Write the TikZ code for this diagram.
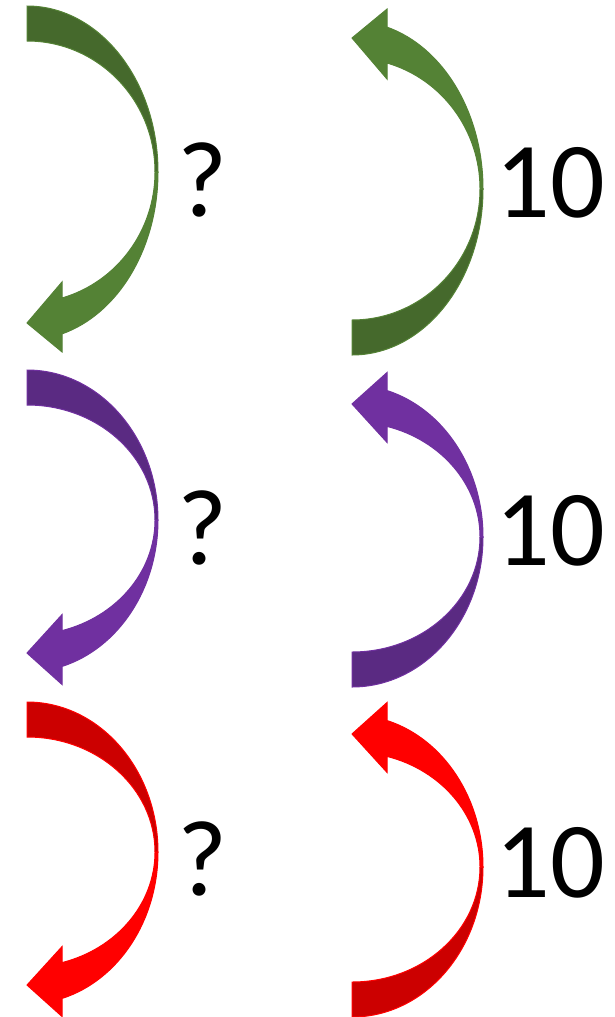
\documentclass[tikz,border=0pt]{standalone}
\usepackage{fontspec}
\setmainfont{Carlito}
\usetikzlibrary{calc}

\definecolor{greenfront}{HTML}{548235}
\definecolor{greenback}{HTML}{45692C}
\definecolor{purplefront}{HTML}{7030A0}
\definecolor{purpleback}{HTML}{5A2A82}
\definecolor{redfront}{HTML}{FF0000}
\definecolor{redback}{HTML}{CC0000}

\begin{document}
\begin{tikzpicture}[x=1pt, y=1pt,
    num/.style={font=\fontsize{108}{120}\selectfont, inner sep=0pt, anchor=base},
    pics/turn/.style n args={3}{code={
        \pgfmathsetmacro\ro{#3}
        \pgfmathsetmacro\rf{#3+2}
        \pgfmathsetmacro\ri{#3-35}
        \pgfmathsetmacro\yo{-\rf*sin(acos(35/131))}
        \pgfmathsetmacro\yi{-\ri*sin(acos(35/128))}
        \pgfmathsetmacro\yt{(\yo+\yi)/2-4.5-(#3-150)*0.16}
        % back of the band
        \filldraw[fill=#2, draw=#1, line width=1pt]
            (0,\ro) arc[start angle=90, end angle=0, x radius=131, y radius=\ro]
            -- (128,0) arc[start angle=0, end angle=90, x radius=128, y radius=\ri] -- cycle;
        % front of the band with the head
        \filldraw[fill=#1, draw=#1, line width=1pt]
            (131,0) arc[start angle=0, end angle=-74.50, x radius=131, y radius=\rf]
            -- (35,\yo-18) -- (0,\yt) -- (35,\yi+16) -- (35,\yi)
            arc[start angle=-74.14, end angle=0, x radius=128, y radius=\ri] -- cycle;
    }}
]
    \useasboundingbox (0,0) rectangle (615,-1017);

    % Flèches de gauche
    \pic (greenL) at (27,-172) {turn={greenfront}{greenback}{166}};
    \pic (purpleL) at (27,-520) {turn={purplefront}{purpleback}{150}};
    \pic (redL) at (27,-852) {turn={redfront}{redback}{150}};

    % Flèches de droite
    \pic[yscale=-1] (greenR) at (352,-189) {turn={greenfront}{greenback}{166}};
    \pic[yscale=-1] (purpleR) at (352,-537) {turn={purplefront}{purpleback}{150}};
    \pic[yscale=-1] (redR) at (352,-867) {turn={redfront}{redback}{150}};

    % Textes
    \node[num] (q1) at (202.5,-216.5) {?};
    \node[num] (q2) at (202.5,-564.5) {?};
    \node[num] (q3) at (202.5,-895.5) {?};
    \node[num] (n1) at (550,-217) {10};
    \node[num] (n2) at (550,-565) {10};
    \node[num] (n3) at (550,-897) {10};

\end{tikzpicture}
\end{document}
